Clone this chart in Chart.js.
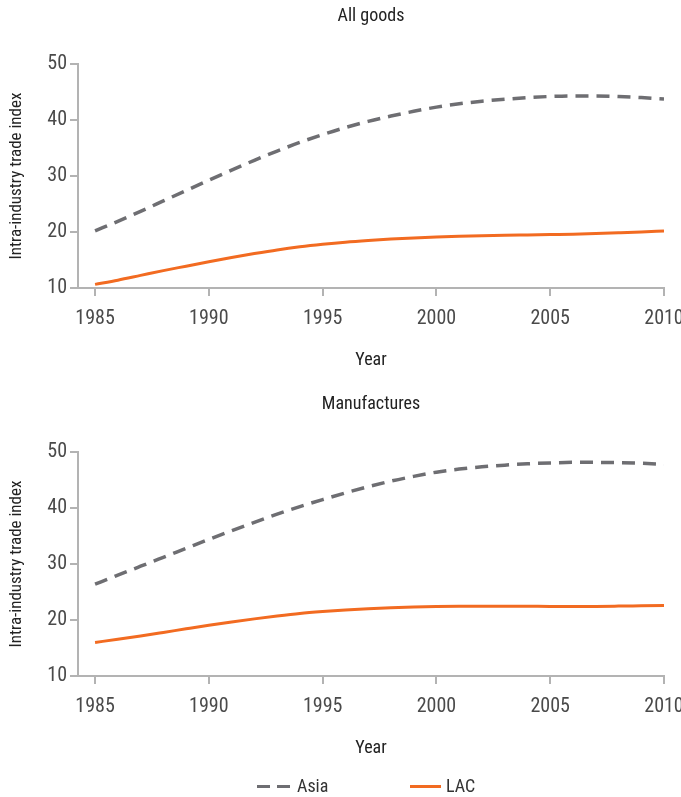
<!DOCTYPE html>
<html>
<head>
<meta charset="utf-8">
<script src="https://cdn.jsdelivr.net/npm/chart.js"></script>
<style>
  html, body { margin: 0; padding: 0; background: #ffffff; }
  body { width: 681px; height: 797px; position: relative; overflow: hidden;
         font-family: 'Liberation Sans Narrow', 'Roboto Condensed', 'DejaVu Sans Condensed', 'Liberation Sans', sans-serif; }
  .panel { position: absolute; left: 0; width: 681px; height: 388px; }
  #legend { position: absolute; top: 776px; left: 0; width: 681px; height: 20px; font-size: 18px; color: #333; }
  .item { position: absolute; top: 0; line-height: 20px; }
  .swatch { position: absolute; top: 9px; height: 0; }
</style>
</head>
<body>
<div class="panel" style="top:0"><canvas id="allGoods" width="681" height="388"></canvas></div>
<div class="panel" style="top:388px"><canvas id="manufactures" width="681" height="388"></canvas></div>
<div id="legend">
  <div class="swatch" style="left:257px;width:13px;border-top:3px solid #6e6e72;"></div>
  <div class="swatch" style="left:277px;width:13px;border-top:3px solid #6e6e72;"></div>
  <div class="item" style="left:297px">Asia</div>
  <div class="swatch" style="left:410px;width:31px;border-top:3px solid #f26b21;"></div>
  <div class="item" style="left:446px">LAC</div>
</div>
<script>
const FONT = "'Liberation Sans Narrow', 'Roboto Condensed', 'DejaVu Sans Condensed', 'Liberation Sans', sans-serif";

const years = [1985, 1986, 1987, 1988, 1989, 1990, 1991, 1992, 1993, 1994, 1995, 1996, 1997,
               1998, 1999, 2000, 2001, 2002, 2003, 2004, 2005, 2006, 2007, 2008, 2009, 2010];
const xTicks = [1985, 1990, 1995, 2000, 2005, 2010];
const yTicks = [10, 20, 30, 40, 50];

// All goods
const allAsia = [20.2, 21.9, 23.7, 25.55, 27.4, 29.25, 31.05, 32.8, 34.45, 36.0, 37.4, 38.65, 39.75,
                 40.7, 41.55, 42.3, 42.9, 43.35, 43.7, 44.0, 44.2, 44.3, 44.3, 44.2, 44.0, 43.75];
const allLAC  = [10.65, 11.4, 12.25, 13.1, 13.9, 14.7, 15.45, 16.15, 16.8, 17.35, 17.8, 18.18, 18.48,
                 18.73, 18.93, 19.1, 19.23, 19.33, 19.41, 19.48, 19.55, 19.62, 19.72, 19.85, 20.0, 20.2];

// Manufactures
const manAsia = [26.4, 28.0, 29.6, 31.2, 32.8, 34.4, 35.95, 37.45, 38.9, 40.25, 41.5, 42.7, 43.8,
                 44.8, 45.65, 46.4, 46.95, 47.35, 47.65, 47.9, 48.05, 48.15, 48.15, 48.1, 48.0, 47.8];
const manLAC  = [16.0, 16.55, 17.15, 17.78, 18.42, 19.05, 19.65, 20.2, 20.7, 21.15, 21.5, 21.8, 22.03,
                 22.2, 22.32, 22.4, 22.45, 22.47, 22.47, 22.45, 22.42, 22.41, 22.43, 22.48, 22.54, 22.6];

const AXIS_GREY = '#b3b3b3';
const TICK_TEXT = '#4a4a4a';

function points(vals) {
  return years.map((y, i) => ({ x: y, y: vals[i] }));
}

function makePanel(id, titleText, asia, lac) {
  new Chart(document.getElementById(id), {
    type: 'line',
    data: {
      datasets: [
        { label: 'Asia', data: points(asia), borderColor: '#6e6e72', borderWidth: 3.5,
          borderDash: [13, 8], pointRadius: 0, cubicInterpolationMode: 'monotone', fill: false },
        { label: 'LAC', data: points(lac), borderColor: '#f26b21', borderWidth: 3,
          pointRadius: 0, cubicInterpolationMode: 'monotone', fill: false }
      ]
    },
    options: {
      responsive: false,
      animation: false,
      events: [],
      layout: { padding: { left: 0, right: 17, top: 0, bottom: 0 } },
      plugins: {
        legend: { display: false },
        tooltip: { enabled: false },
        title: {
          display: true, text: titleText, fullSize: false, color: '#222',
          font: { family: FONT, size: 18, weight: 'normal' },
          padding: { top: 6, bottom: 36.4 }
        }
      },
      scales: {
        x: {
          type: 'linear', min: 1984.25, max: 2010,
          afterBuildTicks: s => { s.ticks = xTicks.map(v => ({ value: v })); },
          afterFit: s => { s.height = 100; s.paddingLeft = 0; s.paddingRight = 0; },
          border: { display: true, color: AXIS_GREY, width: 2 },
          grid: { drawOnChartArea: false, drawTicks: true, tickLength: 8, color: AXIS_GREY, lineWidth: 2 },
          ticks: { color: TICK_TEXT, font: { family: FONT, size: 20 }, padding: 11, maxRotation: 0,
                   callback: v => String(v) },
          title: { display: true, text: 'Year', color: '#222',
                   font: { family: FONT, size: 18 }, padding: { top: 4, bottom: 17 } }
        },
        y: {
          min: 10, max: 50,
          afterBuildTicks: s => { s.ticks = yTicks.map(v => ({ value: v })); },
          afterFit: s => { s.width = 78; },
          border: { display: true, color: AXIS_GREY, width: 2 },
          grid: { drawOnChartArea: false, drawTicks: true, tickLength: 8, color: AXIS_GREY, lineWidth: 2 },
          ticks: { color: TICK_TEXT, font: { family: FONT, size: 20 }, padding: 3 },
          title: { display: true, text: 'Intra-industry trade index', color: '#222',
                   font: { family: FONT, size: 17 }, padding: { top: 7, bottom: 4 } }
        }
      }
    }
  });
}

makePanel('allGoods', 'All goods', allAsia, allLAC);
makePanel('manufactures', 'Manufactures', manAsia, manLAC);
</script>
</body>
</html>
